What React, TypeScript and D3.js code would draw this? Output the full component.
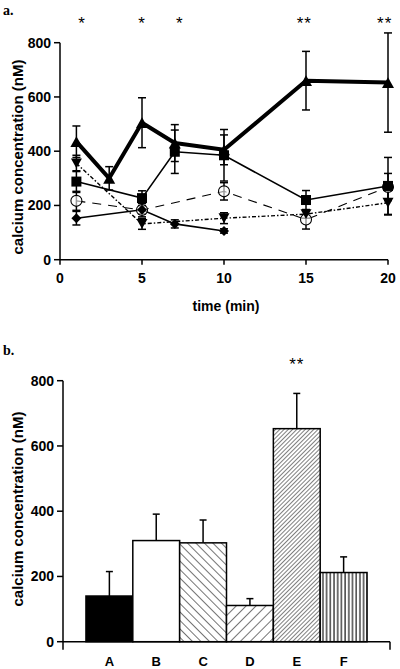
import React from "react";
import * as d3 from "d3";

// ---------- Panel a data ----------
const timeTicks = [0, 5, 10, 15, 20];
const yTicks = [0, 200, 400, 600, 800];

const triTimes = [1, 3, 5, 7, 10, 15, 20];
const triValues = [435, 300, 505, 430, 405, 660, 653];
const triErrors = [58, 43, 92, 68, 55, 108, 183];

const sqTimes = [1, 5, 7, 10, 15, 20];
const sqValues = [288, 227, 398, 385, 220, 272];
const sqErrors = [40, 27, 80, 95, 35, 105];

const circTimes = [1, 5, 10, 15, 20];
const circValues = [217, 183, 252, 148, 268];
const circErrors = [35, 25, 32, 35, 50];

const invTimes = [1, 5, 10, 15, 20];
const invValues = [355, 132, 153, 168, 210];
const invErrors = [30, 20, 20, 15, 45];

const diaTimes = [1, 5, 7, 10];
const diaValues = [153, 184, 132, 106];
const diaErrors = [25, 15, 15, 8];

const starTimes = [1.35, 5, 7.3, 14.9, 19.8];
const starLabels = ["*", "*", "*", "**", "**"];

// ---------- Panel b data ----------
const barCats = ["A", "B", "C", "D", "E", "F"];
const barValues = [140, 310, 303, 111, 653, 212];
const barErrors = [75, 81, 70, 21, 108, 48];
const barFills = ["#000", "#fff", "url(#hC)", "url(#hD)", "url(#hE)", "url(#hF)"];

const SANS = "'Liberation Sans', Arial, Helvetica, sans-serif";
const SERIF = "'Liberation Serif', 'Times New Roman', serif";

function App() {
  // panel a scales
  const xa = d3.scaleLinear().domain([0, 20]).range([60, 388]);
  const ya = d3.scaleLinear().domain([0, 800]).range([259.7, 42.7]);
  // panel b scales
  const xb = d3.scaleBand<string>().domain(barCats).range([63, 390]).paddingInner(0).paddingOuter(0.49);
  const yb = d3.scaleLinear().domain([0, 800]).range([641.7, 380.7]);

  const line = (ts: number[], vs: number[]) =>
    d3.line<number>().x((_, i) => xa(ts[i])).y((v) => ya(v))(vs) || "";

  const errBars = (ts: number[], vs: number[], es: number[], key: string, cap = 4) =>
    vs.map((v, i) => {
      const x = xa(ts[i]);
      return (
        <g key={key + i} stroke="#000" strokeWidth={1.5}>
          <line x1={x} x2={x} y1={ya(v + es[i])} y2={ya(v - es[i])} />
          <line x1={x - cap} x2={x + cap} y1={ya(v + es[i])} y2={ya(v + es[i])} />
          <line x1={x - cap} x2={x + cap} y1={ya(v - es[i])} y2={ya(v - es[i])} />
        </g>
      );
    });

  const tri = (x: number, y: number, s: number, down = false) => {
    const h = s * 0.9;
    return down
      ? `M${x - s / 2},${y - h / 2}L${x + s / 2},${y - h / 2}L${x},${y + h / 2}Z`
      : `M${x - s / 2},${y + h / 2}L${x + s / 2},${y + h / 2}L${x},${y - h / 2}Z`;
  };

  return (
    <svg width={400} height={669} style={{ position: "absolute", left: 0, top: 0, background: "#fff" }}>
      <defs>
        <pattern id="hC" patternUnits="userSpaceOnUse" width={6} height={6} patternTransform="rotate(-45)">
          <rect width={6} height={6} fill="#fff" />
          <line x1={0} y1={0} x2={0} y2={6} stroke="#000" strokeWidth={1.1} />
        </pattern>
        <pattern id="hD" patternUnits="userSpaceOnUse" width={7} height={7} patternTransform="rotate(45)">
          <rect width={7} height={7} fill="#fff" />
          <line x1={0} y1={0} x2={0} y2={7} stroke="#000" strokeWidth={1.1} />
        </pattern>
        <pattern id="hE" patternUnits="userSpaceOnUse" width={3} height={3} patternTransform="rotate(45)">
          <rect width={3} height={3} fill="#fff" />
          <line x1={0} y1={0} x2={0} y2={3} stroke="#000" strokeWidth={1} />
        </pattern>
        <pattern id="hF" patternUnits="userSpaceOnUse" width={3.7} height={4}>
          <rect width={3.7} height={4} fill="#fff" />
          <line x1={1} y1={0} x2={1} y2={4} stroke="#000" strokeWidth={1.1} />
        </pattern>
      </defs>

      {/* ---------------- Panel a ---------------- */}
      <text x={3} y={15} fontFamily={SERIF} fontWeight="bold" fontSize={14}>a.</text>
      {starTimes.map((t, i) => (
        <text key={"s" + i} x={xa(t)} y={29} textAnchor="middle" fontFamily={SANS} fontSize={17} letterSpacing={1}>
          {starLabels[i]}
        </text>
      ))}

      {/* axes */}
      <g stroke="#000" strokeWidth={1.5}>
        <line x1={xa(0)} x2={xa(0)} y1={ya(800)} y2={ya(0)} />
        <line x1={xa(0)} x2={xa(20)} y1={ya(0)} y2={ya(0)} />
        {yTicks.map((t) => (
          <line key={"yt" + t} x1={xa(0) - 6} x2={xa(0)} y1={ya(t)} y2={ya(t)} />
        ))}
        {timeTicks.map((t) => (
          <line key={"xt" + t} x1={xa(t)} x2={xa(t)} y1={ya(0)} y2={ya(0) + 5} />
        ))}
      </g>
      {yTicks.map((t) => (
        <text key={"yl" + t} x={xa(0) - 9} y={ya(t) + 5} textAnchor="end" fontFamily={SANS} fontWeight="bold" fontSize={14}>
          {t}
        </text>
      ))}
      {timeTicks.map((t) => (
        <text key={"xl" + t} x={xa(t)} y={283} textAnchor="middle" fontFamily={SANS} fontWeight="bold" fontSize={14}>
          {t}
        </text>
      ))}
      <text x={226} y={311} textAnchor="middle" fontFamily={SANS} fontWeight="bold" fontSize={14}>time (min)</text>
      <text transform={`translate(23,157) rotate(-90)`} textAnchor="middle" fontFamily={SANS} fontWeight="bold" fontSize={15}>
        calcium concentration (nM)
      </text>

      {/* lines */}
      <path d={line(circTimes, circValues)} fill="none" stroke="#000" strokeWidth={1.1} strokeDasharray="9,7" />
      <path d={line(invTimes, invValues)} fill="none" stroke="#000" strokeWidth={1.4} strokeDasharray="4,2,1.5,2" />
      <path d={line(diaTimes, diaValues)} fill="none" stroke="#000" strokeWidth={1.6} />
      <path d={line(sqTimes, sqValues)} fill="none" stroke="#000" strokeWidth={1.6} />
      <path d={line(triTimes, triValues)} fill="none" stroke="#000" strokeWidth={4} strokeLinejoin="round" />

      {/* error bars */}
      {errBars(circTimes, circValues, circErrors, "ce")}
      {errBars(invTimes, invValues, invErrors, "ie")}
      {errBars(diaTimes, diaValues, diaErrors, "de")}
      {errBars(sqTimes, sqValues, sqErrors, "se")}
      {errBars(triTimes, triValues, triErrors, "te")}

      {/* markers */}
      {circValues.map((v, i) => (
        <circle key={"c" + i} cx={xa(circTimes[i])} cy={ya(v)} r={5.5} fill="#fff" fillOpacity={0.6} stroke="#000" strokeWidth={1.1} />
      ))}
      {diaValues.map((v, i) => {
        const x = xa(diaTimes[i]);
        const y = ya(v);
        return <path key={"d" + i} d={`M${x},${y - 5}L${x + 5},${y}L${x},${y + 5}L${x - 5},${y}Z`} fill="#000" />;
      })}
      {invValues.map((v, i) => (
        <path key={"i" + i} d={tri(xa(invTimes[i]), ya(v), 11, true)} fill="#000" />
      ))}
      {sqValues.map((v, i) => (
        <rect key={"q" + i} x={xa(sqTimes[i]) - 5} y={ya(v) - 5} width={10} height={10} fill="#000" />
      ))}
      {triValues.map((v, i) => (
        <path key={"t" + i} d={tri(xa(triTimes[i]), ya(v), 12)} fill="#000" />
      ))}

      {/* ---------------- Panel b ---------------- */}
      <text x={3} y={355} fontFamily={SERIF} fontWeight="bold" fontSize={14}>b.</text>
      <text x={(xb("E") as number) + xb.bandwidth() / 2} y={370} textAnchor="middle" fontFamily={SANS} fontSize={17} letterSpacing={1}>**</text>

      {barValues.map((v, i) => {
        const c = barCats[i];
        const x = xb(c) as number;
        const cx = x + xb.bandwidth() / 2;
        return (
          <g key={"b" + c}>
            <line x1={cx} x2={cx} y1={yb(v)} y2={yb(v + barErrors[i])} stroke="#000" strokeWidth={1.5} />
            <line x1={cx - 3.5} x2={cx + 3.5} y1={yb(v + barErrors[i])} y2={yb(v + barErrors[i])} stroke="#000" strokeWidth={1.5} />
            <rect x={x} y={yb(v)} width={xb.bandwidth()} height={yb(0) - yb(v)} fill={barFills[i]} stroke="#000" strokeWidth={1.5} />
          </g>
        );
      })}

      <g stroke="#000" strokeWidth={1.5}>
        <line x1={63} x2={63} y1={yb(800)} y2={yb(0) + 8} />
        <line x1={63} x2={390} y1={yb(0)} y2={yb(0)} />
        <line x1={390} x2={390} y1={yb(0)} y2={yb(0) + 8} />
        {yTicks.map((t) => (
          <line key={"byt" + t} x1={57} x2={63} y1={yb(t)} y2={yb(t)} />
        ))}
      </g>
      {yTicks.map((t) => (
        <text key={"byl" + t} x={54} y={yb(t) + 5} textAnchor="end" fontFamily={SANS} fontWeight="bold" fontSize={14}>
          {t}
        </text>
      ))}
      {barCats.map((c) => (
        <text key={"bl" + c} x={(xb(c) as number) + xb.bandwidth() / 2} y={666} textAnchor="middle" fontFamily={SANS} fontWeight="bold" fontSize={13}>
          {c}
        </text>
      ))}
      <text transform={`translate(23,509) rotate(-90)`} textAnchor="middle" fontFamily={SANS} fontWeight="bold" fontSize={15}>
        calcium concentration (nM)
      </text>
    </svg>
  );
}

export default App;
